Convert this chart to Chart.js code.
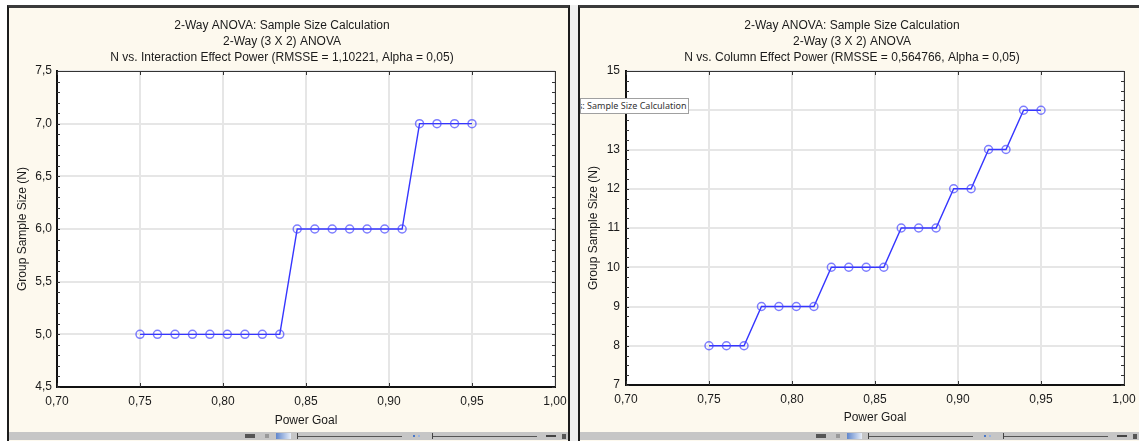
<!DOCTYPE html>
<html>
<head>
<meta charset="utf-8">
<script src="https://cdn.jsdelivr.net/npm/chart.js@4/dist/chart.umd.min.js"></script>
<style>
  html, body { margin: 0; padding: 0; background: #fff; width: 1139px; height: 441px; overflow: hidden; position: relative; }
  .frame { position: absolute; top: 5px; height: 440px; background: #fdf9ee; box-sizing: border-box;
           border-top: 3px solid #3a3a3a; border-left: 2px solid #1c1c1c; border-right: 2px solid #1c1c1c; }
  canvas { position: absolute; top: 8px; }
  .bar { position: absolute; top: 432px; height: 8px; background: #c6c6c6; }
  .bit { position: absolute; }
  .tip { position: absolute; left: 580px; top: 98px; width: 107px; height: 14px; background: #fff;
         border: 1px solid #a0a0a0; font: 9px 'Noto Sans', sans-serif; color: #333; line-height: 14px;
         white-space: nowrap; overflow: hidden; text-indent: -3px; }
</style>
</head>
<body>
<div class="frame" style="left:7px; width:563px;"></div>
<div class="bit" style="left:570px; top:5px; width:8px; height:436px; background:#efefef;"></div>
<div class="frame" style="left:578px; width:570px;"></div>
<canvas id="interaction-chart" width="559" height="424" style="left:9px;"></canvas>
<canvas id="column-chart" width="563" height="424" style="left:580px;"></canvas>
<div class="bar" style="left:9px; width:559px;"></div>
<div class="bar" style="left:580px; width:559px;"></div>
<div class="tip">s: Sample Size Calculation</div>
<script>
const powerGoal = [0.7500, 0.7605, 0.7711, 0.7816, 0.7921, 0.8026, 0.8132, 0.8237, 0.8342, 0.8447,
                   0.8553, 0.8658, 0.8763, 0.8868, 0.8974, 0.9079, 0.9184, 0.9289, 0.9395, 0.9500];
const interactionN = [5, 5, 5, 5, 5, 5, 5, 5, 5, 6, 6, 6, 6, 6, 6, 6, 7, 7, 7, 7];
const columnN = [8, 8, 8, 9, 9, 9, 9, 10, 10, 10, 10, 11, 11, 11, 12, 12, 13, 13, 14, 14];

const interactionTitle = ['2-Way ANOVA: Sample Size Calculation', '2-Way (3 X 2) ANOVA',
                          'N vs. Interaction Effect Power (RMSSE = 1,10221, Alpha = 0,05)'];
const columnTitle = ['2-Way ANOVA: Sample Size Calculation', '2-Way (3 X 2) ANOVA',
                     'N vs. Column Effect Power (RMSSE = 0,564766, Alpha = 0,05)'];

Chart.defaults.font.family = "'Liberation Sans', Arial, sans-serif";
Chart.defaults.font.size = 12;
Chart.defaults.color = '#1a1a1a';

function comma(v, d) {
  return v.toFixed(d).replace('.', ',')
}

// statusbar bits under each panel
function statusBits(off) {
  const bits = [
    [245 + off, 434, 10, 4, '#555'], [265 + off, 434, 4, 4, '#999'],
    [276 + off, 433, 15, 6, 'linear-gradient(90deg,#5f86cc,#e8eef8)'],
    [297 + off, 433, 1, 6, '#444'], [298 + off, 436, 104, 1, '#555'],
    [413 + off, 435, 2, 2, '#4a78c8'], [418 + off, 435, 2, 2, '#9ab4e0'],
    [432 + off, 433, 1, 6, '#444'], [433 + off, 436, 104, 1, '#555'],
    [546 + off, 435, 10, 2, '#444'], [562 + off, 434, 4, 5, '#555']
  ];
  bits.forEach(b => {
    const d = document.createElement('div');
    d.className = 'bit';
    d.style.cssText = `left:${b[0]}px;top:${b[1]}px;width:${b[2]}px;height:${b[3]}px;background:${b[4]};`;
    document.body.appendChild(d);
  });
}
statusBits(0);
statusBits(571);

const plotFrame = {
  id: 'plotFrame',
  beforeDraw(chart) {
    const {ctx, chartArea: a} = chart;
    ctx.save();
    ctx.fillStyle = '#ffffff';
    ctx.fillRect(a.left, a.top, a.width, a.height);
    ctx.restore();
  },
  beforeDatasetsDraw(chart, args, opts) {
    const {ctx, chartArea: a, scales} = chart;
    const x = scales.x, y = scales.y;
    ctx.save();
    ctx.strokeStyle = '#333';
    ctx.lineWidth = 1;
    ctx.beginPath();
    ctx.moveTo(a.left, a.top + 0.5);
    ctx.lineTo(a.right + 0.5, a.top + 0.5);
    ctx.lineTo(a.right + 0.5, a.bottom);
    x.ticks.forEach(t => {
      const px = Math.round(x.getPixelForValue(t.value)) + 0.5;
      ctx.moveTo(px, a.top);
      ctx.lineTo(px, a.top + 4);
      ctx.moveTo(px, a.bottom);
      ctx.lineTo(px, a.bottom - 4);
    });
    const n = Math.round((y.max - y.min) / opts.minor);
    for (let i = 0; i <= n; i++) {
      const py = Math.round(y.getPixelForValue(y.min + i * opts.minor)) + 0.5;
      ctx.moveTo(a.left, py);
      ctx.lineTo(a.left + 3, py);
      ctx.moveTo(a.right, py);
      ctx.lineTo(a.right - 3, py);
    }
    ctx.stroke();
    ctx.restore();
  }
};

function makeChart(id, title, values, yMin, yMax, yStep, yDec, minor, pad) {
  const ctx = document.getElementById(id).getContext('2d');
  return new Chart(ctx, {
    type: 'line',
    data: {
      datasets: [{
        data: powerGoal.map((p, i) => ({x: p, y: values[i]})),
        borderColor: '#3535ff',
        borderWidth: 1.4,
        tension: 0,
        pointRadius: 4,
        pointBorderWidth: 1.5,
        pointBorderColor: 'rgba(70,70,255,0.7)',
        pointBackgroundColor: 'rgba(0,0,0,0)'
      }]
    },
    options: {
      responsive: false,
      animation: false,
      devicePixelRatio: 1,
      layout: { padding: { left: 0, right: pad.right, top: 0, bottom: 0 } },
      plugins: {
        legend: { display: false },
        tooltip: { enabled: false },
        title: {
          display: true,
          text: title,
          color: '#1a1a1a',
          font: { size: 12, weight: 'normal', lineHeight: '16px' },
          padding: { top: 10, bottom: 5 }
        },
        plotFrame: { minor: minor }
      },
      scales: {
        x: {
          type: 'linear',
          min: 0.70,
          max: 1.00,
          ticks: { stepSize: 0.05, padding: 7, autoSkip: false, maxRotation: 0,
                   callback: v => comma(v, 2) },
          grid: { color: '#e6e6e6', lineWidth: 2, drawTicks: false },
          border: { color: '#111', width: 2 },
          title: { display: true, text: 'Power Goal', padding: { top: 0, bottom: pad.xTitle } },
          afterFit(s) { s.height = pad.xHeight; s.paddingLeft = 0; s.paddingRight = 0; }
        },
        y: {
          min: yMin,
          max: yMax,
          ticks: { stepSize: yStep, padding: pad.yTick, callback: v => comma(v, yDec) },
          grid: { color: '#e6e6e6', lineWidth: 2, drawTicks: false },
          border: { color: '#111', width: 2 },
          title: { display: true, text: 'Group Sample Size (N)', padding: { top: 6, bottom: 0 } },
          afterFit(s) { s.width = pad.yWidth; s.paddingTop = 0; s.paddingBottom = 0; }
        }
      }
    },
    plugins: [plotFrame]
  });
}

makeChart('interaction-chart', interactionTitle, interactionN, 4.5, 7.5, 0.5, 1, 0.1,
          { right: 13, xHeight: 45, xTitle: 4, yWidth: 48, yTick: 5 });
makeChart('column-chart', columnTitle, columnN, 7, 15, 1, 0, 0.25,
          { right: 19, xHeight: 47, xTitle: 7, yWidth: 46, yTick: 6 });
</script>
</body>
</html>
